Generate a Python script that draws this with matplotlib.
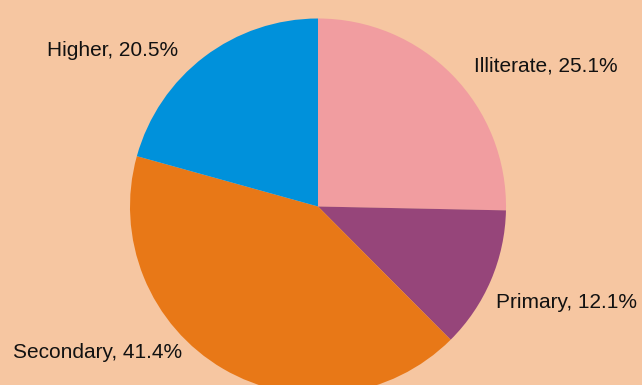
import matplotlib.pyplot as plt

categories = ["Illiterate", "Primary", "Secondary", "Higher"]
shares = [25.1, 12.1, 41.4, 20.5]
colors = ["#F19DA0", "#96457A", "#E87817", "#0091DB"]

bg = "#F6C6A1"
W, H = 642, 385

fig = plt.figure(figsize=(W / 100, H / 100), dpi=100, facecolor=bg)
ax = fig.add_axes([0, 0, 1, 1])
ax.set_facecolor(bg)

# pie centre / radius in pixel units (y measured from bottom)
cx, cy, r = 318, H - 206.5, 188
ax.pie(shares, colors=colors, startangle=90, counterclock=False,
       center=(cx, cy), radius=r, frame=True,
       wedgeprops=dict(linewidth=0))
ax.set_xlim(0, W)
ax.set_ylim(0, H)
ax.set_aspect("equal")
ax.axis("off")

# label anchors (pixel positions from top-left, cap-height middle)
label_pos = {
    "Illiterate": (545.5, 66),
    "Primary": (566, 302),
    "Secondary": (97.5, 352),
    "Higher": (113, 50),
}
for cat, val in zip(categories, shares):
    x, y = label_pos[cat]
    ax.text(x, H - y - 6, f"{cat}, {val}%", ha="center", va="baseline",
            fontsize=15, family="Liberation Sans", color="#111111")

fig.savefig("out.png", dpi=100, facecolor=bg)
